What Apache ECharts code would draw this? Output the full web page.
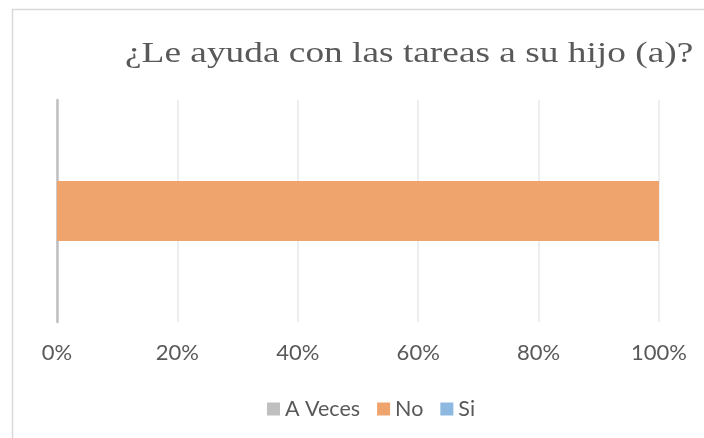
<!DOCTYPE html>
<html>
<head>
<meta charset="utf-8">
<script src="https://cdn.jsdelivr.net/npm/echarts@6/dist/echarts.min.js"></script>
<style>html,body{margin:0;padding:0;background:#fff;}#c{width:704px;height:438px;}</style>
</head>
<body>
<div id="c"></div>
<script>
const titleText = '¿Le ayuda con las tareas a su hijo (a)?';
const categories = [''];
const seriesNames = ['A Veces', 'No', 'Si'];
const aVeces = [0];
const no = [100];
const si = [0];
const xTicks = [0, 20, 40, 60, 80, 100];
const colors = ['#bfbfbf', '#f0a46d', '#8db8e0'];

const chart = echarts.init(document.getElementById('c'));
const values = [aVeces, no, si];
chart.setOption({
  animation: false,
  backgroundColor: '#ffffff',
  graphic: [{
    type: 'rect', shape: { x: 12.5, y: 9.5, width: 720, height: 450 },
    style: { fill: 'none', stroke: '#d9d9d9', lineWidth: 1.5 }, silent: true
  }, {
    type: 'text', x: 125, y: 39, scaleX: 1.245, scaleY: 1, originX: 0, originY: 0,
    style: {
      text: titleText, fontFamily: 'Liberation Serif', fontSize: 30,
      fill: '#595959', align: 'left', verticalAlign: 'top'
    }, silent: true
  }],
  legend: {
    top: 393, left: 262, itemWidth: 13, itemHeight: 13, itemGap: 17,
    icon: 'rect',
    textStyle: { fontFamily: 'Lato', fontSize: 21.5, color: '#595959' },
    data: seriesNames
  },
  grid: { left: 57, right: 45, top: 100, bottom: 116 },
  xAxis: {
    type: 'value', min: xTicks[0], max: xTicks[xTicks.length - 1], interval: 20,
    axisLine: { show: false }, axisTick: { show: false },
    splitLine: { lineStyle: { color: '#e9e9e9', width: 1.5 } },
    axisLabel: { formatter: v => v + '%', fontFamily: 'Lato', fontSize: 22, color: '#595959', margin: 20 }
  },
  yAxis: {
    type: 'category', data: categories,
    axisLine: { lineStyle: { color: '#bfbfbf', width: 2.5 } },
    axisTick: { show: false }, axisLabel: { show: false }
  },
  series: seriesNames.map((n, i) => ({
    name: n, type: 'bar', stack: 'total', data: values[i],
    barCategoryGap: '73%',
    itemStyle: { color: colors[i] }
  }))
});
</script>
</body>
</html>
